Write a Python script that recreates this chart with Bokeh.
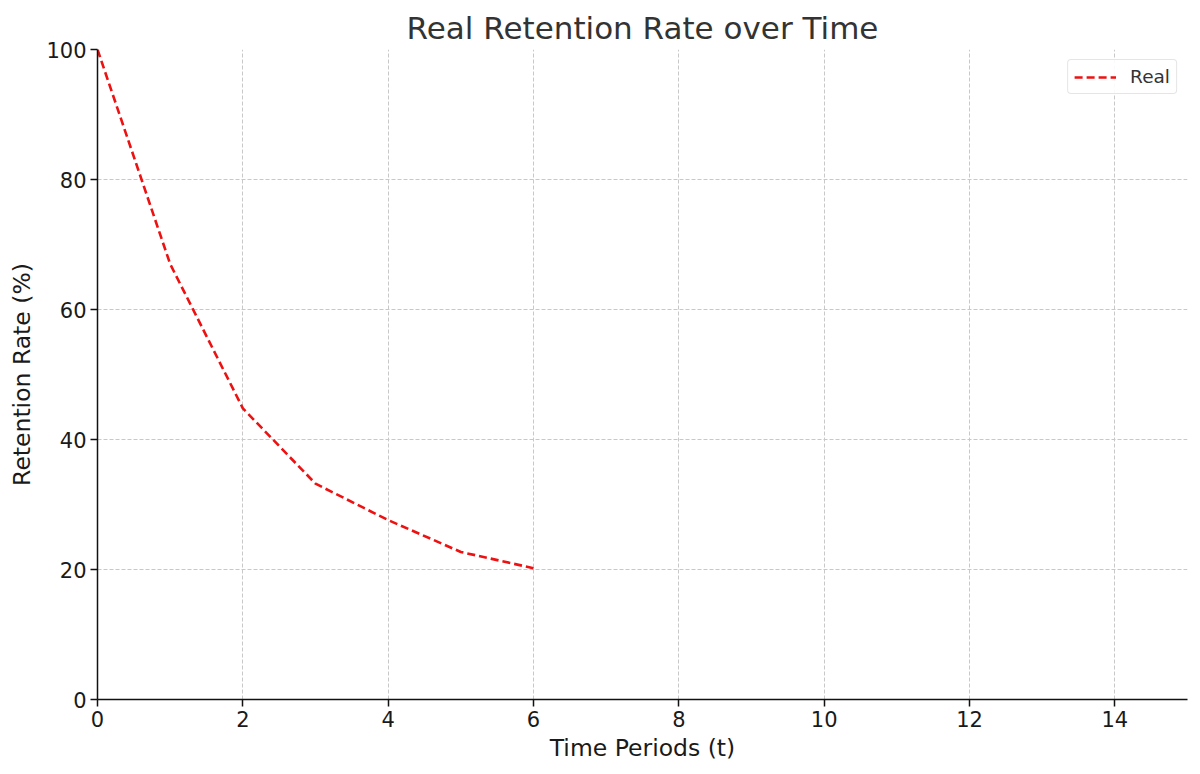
from bokeh.plotting import figure
from bokeh.models import Range1d, FixedTicker, Legend, LegendItem
from bokeh.embed import file_html
from bokeh.resources import INLINE

t_values = [0, 1, 2, 3, 4, 5, 6]
real_retention = [100, 67, 44.8, 33.2, 27.6, 22.7, 20.2]
x_ticks = [0, 2, 4, 6, 8, 10, 12, 14]
y_ticks = [0, 20, 40, 60, 80, 100]

FONT = "DejaVu Sans"

p = figure(width=1195, height=766, output_backend="svg", toolbar_location=None,
           x_range=Range1d(0, 15), y_range=Range1d(0, 100),
           min_border_left=97, min_border_right=8, min_border_top=49, min_border_bottom=67)
p.title.text = "Real Retention Rate over Time"
p.title.align = "center"
p.title.text_font = FONT
p.title.text_font_size = "31px"
p.title.text_font_style = "normal"
p.title.text_color = "#333333"
p.title.offset = 0
p.title.standoff = 8

r = p.line(t_values, real_retention, line_color="#ee1111", line_width=2.6, line_dash="8 4")

p.outline_line_color = None
for ax in (p.xaxis[0], p.yaxis[0]):
    ax.axis_line_color = "#111111"
    ax.axis_line_width = 1.5
    ax.major_tick_line_color = "#111111"
    ax.major_tick_line_width = 1.5
    ax.major_tick_out = 7
    ax.major_tick_in = 0
    ax.minor_tick_line_color = None
    ax.major_label_text_font = FONT
    ax.major_label_text_font_size = "21px"
    ax.major_label_text_color = "#1a1a1a"
    ax.major_label_standoff = 4
    ax.axis_label_text_font = FONT
    ax.axis_label_text_font_size = "23.5px"
    ax.axis_label_text_font_style = "normal"
    ax.axis_label_text_color = "#1a1a1a"

p.xaxis.ticker = FixedTicker(ticks=x_ticks)
p.yaxis.ticker = FixedTicker(ticks=y_ticks)
p.xaxis.axis_label = "Time Periods (t)"
p.yaxis.axis_label = "Retention Rate (%)"
p.xaxis.axis_label_standoff = 4
p.yaxis.axis_label_standoff = 7

for g in (p.xgrid[0], p.ygrid[0]):
    g.grid_line_color = "#c8c8c8"
    g.grid_line_dash = "4 2"
    g.grid_line_width = 1

legend = Legend(items=[LegendItem(label="Real", renderers=[r])], location="top_right")
legend.label_text_font = FONT
legend.label_text_font_size = "18.5px"
legend.label_text_color = "#333333"
legend.border_line_color = "#cccccc"
legend.border_line_width = 1.5
legend.glyph_width = 42
legend.label_standoff = 14
legend.margin = 10
legend.padding = 6
legend.background_fill_alpha = 0.9
if "border_radius" in legend.properties():
    legend.border_radius = 4
p.add_layout(legend)

open("out.html", "w").write(file_html(p, INLINE))
